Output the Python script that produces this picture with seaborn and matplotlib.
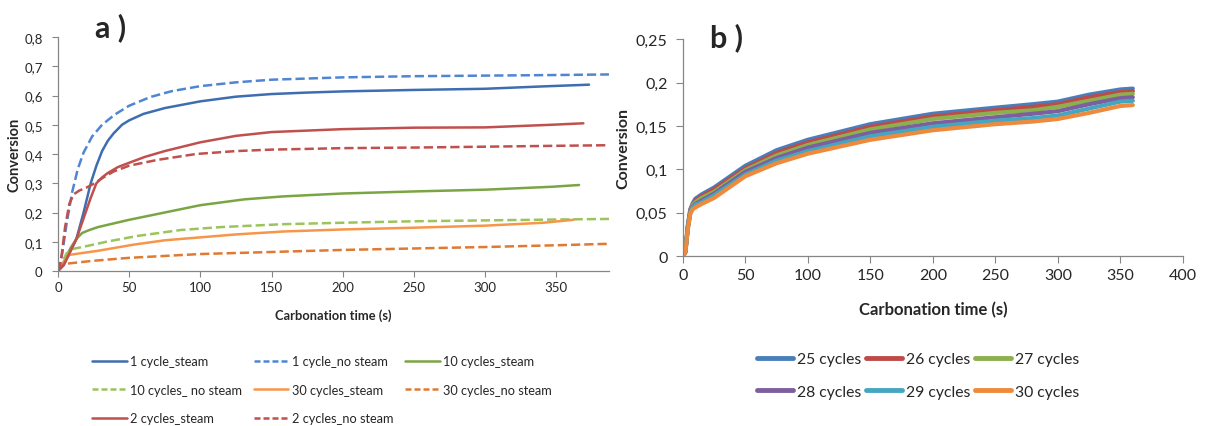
import matplotlib
matplotlib.use("Agg")
import matplotlib.pyplot as plt
from matplotlib.ticker import FuncFormatter, MultipleLocator
from matplotlib.lines import Line2D
import seaborn as sns
import pandas as pd

# ---------------- Panel a data ----------------
t_1_steam = [0, 4, 8, 13, 18, 23, 27, 31, 35, 39, 45, 50, 60, 75, 100, 125, 150, 175, 200, 250, 300, 340, 373]
c_1_steam = [0, 0.02, 0.06, 0.11, 0.2, 0.3, 0.36, 0.41, 0.445, 0.47, 0.5, 0.515, 0.537, 0.557, 0.58, 0.596, 0.605, 0.61, 0.614, 0.619, 0.623, 0.631, 0.637]

t_1_nosteam = [0, 3, 6, 10, 14, 18, 24, 31, 40, 50, 65, 80, 100, 125, 150, 200, 250, 300, 350, 387]
c_1_nosteam = [0, 0.06, 0.16, 0.27, 0.35, 0.405, 0.46, 0.5, 0.535, 0.565, 0.595, 0.615, 0.632, 0.645, 0.654, 0.662, 0.666, 0.668, 0.67, 0.672]

t_10_steam = [0, 4, 9, 13, 17, 22, 28, 50, 75, 100, 131, 158, 200, 250, 300, 347, 366]
c_10_steam = [0, 0.03, 0.08, 0.11, 0.13, 0.14, 0.15, 0.175, 0.2, 0.225, 0.245, 0.255, 0.265, 0.272, 0.278, 0.288, 0.294]

t_10_nosteam = [0, 3, 6, 10, 20, 34, 56, 86, 114, 158, 200, 250, 300, 350, 387]
c_10_nosteam = [0, 0.03, 0.06, 0.075, 0.085, 0.1, 0.12, 0.14, 0.15, 0.16, 0.165, 0.17, 0.173, 0.176, 0.178]

t_30_steam = [0, 3, 8, 15, 28, 53, 75, 100, 125, 158, 200, 250, 300, 341, 362]
c_30_steam = [0, 0.025, 0.055, 0.06, 0.069, 0.09, 0.105, 0.115, 0.125, 0.135, 0.142, 0.148, 0.155, 0.165, 0.175]

t_30_nosteam = [0, 3, 6, 25, 50, 100, 150, 200, 250, 300, 350, 387]
c_30_nosteam = [0, 0.02, 0.025, 0.035, 0.045, 0.058, 0.065, 0.072, 0.077, 0.082, 0.088, 0.093]

t_2_steam = [0, 4, 8, 13, 18, 23, 27, 31, 35, 42, 50, 61, 75, 100, 125, 150, 200, 250, 300, 347, 369]
c_2_steam = [0, 0.02, 0.06, 0.11, 0.18, 0.25, 0.3, 0.32, 0.335, 0.355, 0.37, 0.39, 0.41, 0.44, 0.462, 0.475, 0.485, 0.49, 0.491, 0.5, 0.505]

t_2_nosteam = [0, 2, 5, 8, 11, 15, 20, 25, 32, 39, 50, 70, 97, 125, 150, 200, 250, 300, 350, 387]
c_2_nosteam = [0, 0.03, 0.15, 0.23, 0.262, 0.275, 0.285, 0.298, 0.32, 0.34, 0.36, 0.38, 0.4, 0.41, 0.415, 0.42, 0.422, 0.425, 0.428, 0.43]

labels_a = ["1 cycle_steam", "1 cycle_no steam", "10 cycles_steam",
            "10 cycles_ no steam", "30 cycles_steam", "30 cycles_no steam",
            "2 cycles_steam", "2 cycles_no steam"]

# ---------------- Panel b data ----------------
t_b = [0, 2, 4, 6, 8, 10, 15, 25, 50, 75, 100, 150, 200, 250, 280, 300, 325, 350, 360]
c_25 = [0, 0.005, 0.035, 0.054, 0.061, 0.066, 0.071, 0.079, 0.104, 0.122, 0.134, 0.152, 0.164, 0.171, 0.175, 0.178, 0.186, 0.192, 0.193]
c_26 = [0, 0.005, 0.034, 0.053, 0.060, 0.064, 0.069, 0.077, 0.101, 0.119, 0.131, 0.149, 0.161, 0.168, 0.172, 0.175, 0.183, 0.189, 0.190]
c_27 = [0, 0.005, 0.034, 0.052, 0.059, 0.062, 0.067, 0.074, 0.099, 0.116, 0.128, 0.146, 0.158, 0.165, 0.168, 0.172, 0.179, 0.186, 0.187]
c_28 = [0, 0.004, 0.033, 0.051, 0.057, 0.060, 0.064, 0.072, 0.097, 0.113, 0.125, 0.142, 0.153, 0.160, 0.164, 0.167, 0.175, 0.182, 0.183]
c_29 = [0, 0.004, 0.032, 0.050, 0.056, 0.059, 0.062, 0.070, 0.094, 0.110, 0.121, 0.138, 0.149, 0.156, 0.159, 0.162, 0.170, 0.178, 0.179]
c_30 = [0, 0.004, 0.031, 0.049, 0.054, 0.056, 0.060, 0.067, 0.092, 0.107, 0.118, 0.134, 0.145, 0.152, 0.155, 0.158, 0.165, 0.173, 0.174]
labels_b = ["25 cycles", "26 cycles", "27 cycles", "28 cycles", "29 cycles", "30 cycles"]

# ---------------- Style ----------------
sns.set_style("ticks")
plt.rcParams['font.family'] = ['Lato', 'DejaVu Sans']

fig = plt.figure(figsize=(12.15, 4.27), dpi=100)
ax_a = fig.add_axes([0.0477, 0.363, 0.4535, 0.548])
ax_b = fig.add_axes([0.562, 0.398, 0.4115, 0.508])

spine_c = "#868686"
fmt = FuncFormatter(lambda v, p: f"{v:g}".replace('.', ','))

series_a = [
    (t_1_steam, c_1_steam, "#3E6DB0", "-"),
    (t_1_nosteam, c_1_nosteam, "#4F86D4", "--"),
    (t_10_steam, c_10_steam, "#7AA544", "-"),
    (t_10_nosteam, c_10_nosteam, "#9BC45A", "--"),
    (t_30_steam, c_30_steam, "#F7964A", "-"),
    (t_30_nosteam, c_30_nosteam, "#E07A32", "--"),
    (t_2_steam, c_2_steam, "#C0504D", "-"),
    (t_2_nosteam, c_2_nosteam, "#C0504D", "--"),
]
handles_a = []
for (t, c, col, ls), lab in zip(series_a, labels_a):
    df = pd.DataFrame({"t": t, "c": c})
    kw = dict(dashes=(3.2, 1.6)) if ls == "--" else {}
    sns.lineplot(data=df, x="t", y="c", ax=ax_a, color=col, lw=1.8, linestyle=ls, **kw)
    h = Line2D([], [], color=col, lw=1.8, linestyle=ls)
    if ls == "--":
        h.set_dashes((2.4, 1.2))
    handles_a.append(h)

ax_a.set_xlim(0, 387)
ax_a.set_ylim(0, 0.8)
ax_a.xaxis.set_major_locator(MultipleLocator(50))
ax_a.yaxis.set_major_locator(MultipleLocator(0.1))
ax_a.xaxis.set_major_formatter(fmt)
ax_a.yaxis.set_major_formatter(fmt)
ax_a.set_xlabel("Carbonation time (s)", fontsize=9.3, fontweight="bold", labelpad=11)
ax_a.set_ylabel("Conversion", fontsize=10.5, fontweight="bold", labelpad=2)
ax_a.tick_params(labelsize=9.5, length=4, color=spine_c, width=0.8)
ax_a.tick_params(axis="y", pad=7)

cols_b = ["#4A7EBB", "#BE4B48", "#8DB04E", "#7D5FA0", "#45A6C2", "#EE8A3C"]
series_b = [c_25, c_26, c_27, c_28, c_29, c_30]
handles_b = []
for c, col, lab in zip(series_b, cols_b, labels_b):
    df = pd.DataFrame({"t": t_b, "c": c})
    sns.lineplot(data=df, x="t", y="c", ax=ax_b, color=col, lw=3)
    handles_b.append(Line2D([], [], color=col, lw=3.5, solid_capstyle="round"))

ax_b.set_xlim(0, 400)
ax_b.set_ylim(0, 0.25)
ax_b.xaxis.set_major_locator(MultipleLocator(50))
ax_b.yaxis.set_major_locator(MultipleLocator(0.05))
ax_b.xaxis.set_major_formatter(fmt)
ax_b.yaxis.set_major_formatter(fmt)
ax_b.set_xlabel("Carbonation time (s)", fontsize=12, fontweight="bold", labelpad=14)
ax_b.set_ylabel("Conversion", fontsize=11.5, fontweight="bold", labelpad=4)
ax_b.tick_params(labelsize=11.5, length=5, color=spine_c, width=0.8)
ax_b.tick_params(axis="y", pad=6)

for ax in (ax_a, ax_b):
    sns.despine(ax=ax)
    for s in ("left", "bottom"):
        ax.spines[s].set_color(spine_c)
        ax.spines[s].set_linewidth(0.9)

# Legends (row-major order as in reference)
order_a = [0, 3, 6, 1, 4, 7, 2, 5]
ax_a.legend([handles_a[i] for i in order_a], [labels_a[i] for i in order_a],
            ncol=3, loc="upper left", bbox_to_anchor=(0.0525, -0.339), frameon=False,
            fontsize=9.2, handlelength=2.73, handletextpad=0.25, columnspacing=0.9,
            labelspacing=1.29, borderaxespad=0)
order_b = [0, 3, 1, 4, 2, 5]
ax_b.legend([handles_b[i] for i in order_b], [labels_b[i] for i in order_b],
            ncol=3, loc="upper left", bbox_to_anchor=(0.135, -0.415), frameon=False,
            fontsize=11.3, handlelength=2.3, handletextpad=0.25, columnspacing=0.32,
            labelspacing=1.18, borderaxespad=0)

fig.text(0.078, 0.935, "a )", fontsize=22, fontweight="bold", ha="left", va="center")
fig.text(0.584, 0.912, "b )", fontsize=22, fontweight="bold", ha="left", va="center")

fig.savefig("out.png", dpi=100)
